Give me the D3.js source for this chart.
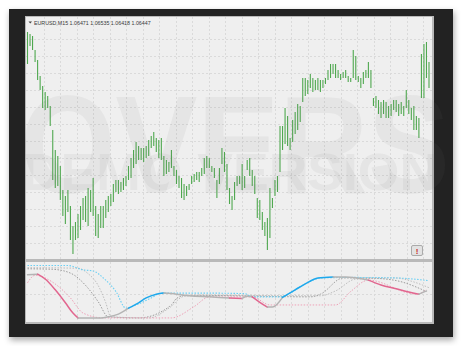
<!DOCTYPE html>
<html>
<head>
<meta charset="utf-8">
<script src="https://cdn.jsdelivr.net/npm/d3@7/dist/d3.min.js"></script>
<style>
  html, body { margin: 0; padding: 0; background: #fff; }
  svg { display: block; }
</style>
</head>
<body>
<svg id="chart" width="461" height="346"></svg>
<script>
'use strict';

// EURUSD M15 bars, high / low per bar
var highs = [
  1.0669,1.0668,1.0667,1.0660,1.0655,1.0647,1.0642,1.0639,1.0637,1.0632,
  1.0620,1.0610,1.0607,1.0602,1.0590,1.0587,1.0590,1.0582,1.0572,1.0574,
  1.0578,1.0582,1.0586,1.0587,1.0591,1.0590,1.0596,1.0582,1.0578,1.0582,
  1.0582,1.0585,1.0587,1.0588,1.0593,1.0595,1.0595,1.0594,1.0596,1.0597,
  1.0602,1.0606,1.0610,1.0614,1.0612,1.0611,1.0611,1.0612,1.0615,1.0617,
  1.0619,1.0616,1.0615,1.0616,1.0607,1.0605,1.0604,1.0610,1.0602,1.0600,
  1.0597,1.0596,1.0593,1.0592,1.0593,1.0597,1.0598,1.0599,1.0599,1.0601,
  1.0606,1.0607,1.0606,1.0602,1.0601,1.0595,1.0601,1.0611,1.0609,1.0603,
  1.0591,1.0587,1.0594,1.0597,1.0597,1.0603,1.0597,1.0605,1.0606,1.0600,
  1.0597,1.0586,1.0585,1.0579,1.0574,1.0576,1.0591,1.0586,1.0595,1.0597,
  1.0622,1.0622,1.0631,1.0627,1.0616,1.0625,1.0629,1.0633,1.0632,1.0646,
  1.0646,1.0645,1.0648,1.0646,1.0645,1.0646,1.0645,1.0645,1.0646,1.0650,
  1.0653,1.0653,1.0653,1.0650,1.0648,1.0649,1.0650,1.0647,1.0646,1.0660,
  1.0657,1.0647,1.0646,1.0649,1.0650,1.0654,1.0650,1.0636,1.0637,1.0635,
  1.0634,1.0635,1.0634,1.0632,1.0633,1.0635,1.0635,1.0633,1.0634,1.0632,
  1.0640,1.0635,1.0631,1.0632,1.0627,1.0626,1.0658,1.0663,1.0664,1.0654
];
var lows = [
  1.0653,1.0662,1.0660,1.0654,1.0645,1.0640,1.0631,1.0630,1.0631,1.0622,
  1.0595,1.0591,1.0592,1.0585,1.0577,1.0573,1.0579,1.0565,1.0558,1.0565,
  1.0566,1.0570,1.0575,1.0574,1.0572,1.0579,1.0577,1.0567,1.0566,1.0571,
  1.0571,1.0576,1.0579,1.0582,1.0584,1.0589,1.0588,1.0589,1.0590,1.0592,
  1.0595,1.0596,1.0601,1.0603,1.0605,1.0605,1.0604,1.0606,1.0607,1.0611,
  1.0612,1.0609,1.0606,1.0605,1.0597,1.0598,1.0599,1.0601,1.0597,1.0593,
  1.0591,1.0586,1.0585,1.0587,1.0590,1.0593,1.0594,1.0595,1.0594,1.0597,
  1.0598,1.0601,1.0601,1.0599,1.0596,1.0586,1.0593,1.0603,1.0599,1.0590,
  1.0583,1.0580,1.0585,1.0592,1.0593,1.0590,1.0591,1.0600,1.0597,1.0592,
  1.0588,1.0576,1.0575,1.0570,1.0567,1.0560,1.0566,1.0581,1.0587,1.0589,
  1.0599,1.0610,1.0613,1.0612,1.0610,1.0614,1.0618,1.0620,1.0624,1.0634,
  1.0637,1.0638,1.0641,1.0639,1.0640,1.0640,1.0639,1.0641,1.0643,1.0645,
  1.0646,1.0648,1.0646,1.0646,1.0645,1.0646,1.0646,1.0644,1.0644,1.0646,
  1.0645,1.0644,1.0641,1.0643,1.0646,1.0646,1.0641,1.0632,1.0631,1.0628,
  1.0626,1.0628,1.0626,1.0626,1.0627,1.0630,1.0629,1.0627,1.0628,1.0627,
  1.0631,1.0628,1.0625,1.0620,1.0620,1.0616,1.0636,1.0636,1.0646,1.0641
];

var titleText = 'EURUSD,M15  1.06471 1.06535 1.06418 1.06447';

// oscillator window, points are [bar index, value]
var mainLine = [[0,82],[4,83],[7,74],[11,54],[15,30],[18,11],[20,2],[25,2],[29,2],[32,4],
  [36,9],[40,20],[44,30],[47,39],[51,46],[54,48],[59,46],[64,43],[72,41],[80,39],
  [85,38],[87,42],[89,41],[92,31],[95,22],[97,22],[101,40],[106,54],[110,65],[115,76],
  [121,78],[126,78],[135,72],[140,63],[146,56],[151,50],[155,46],[158,52]];
// direction of each main segment (from point k to k+1)
var mainTrend = ['flat','down','down','down','down','down','flat','flat','flat','flat',
  'flat','up','up','up','up','flat','flat','flat','flat','down',
  'flat','flat','down','down','flat','flat','up','up','up','up',
  'flat','flat','down','down','down','down','flat'];
var signalLine = [[0,99],[16,99],[22,91],[26,89],[30,76],[35,51],[39,20],[43,26],[49,39],[53,48],
  [70,48],[86,47],[89,41],[100,41],[104,48],[108,60],[112,70],[116,76],[130,77],[146,76],[159,71]];
var pinkLine = [[0,67],[3,81],[10,68],[17,39],[22,11],[30,2],[57,2],[66,23],[72,41],[89,41],
  [96,26],[122,26],[128,51],[135,72],[154,46],[158,54]];
var slowLine = [[0,93],[10,92],[17,85],[24,57],[28,32],[32,4],[44,2],[57,26],[59,38],[63,44],
  [112,41],[116,46],[125,76],[134,76],[145,72],[158,51]];
var slowerLine = [[0,95],[20,94],[24,84],[28,62],[31,30],[33,4],[48,2],[56,20],[62,42],[70,44],
  [116,43],[122,52],[130,74],[146,76],[152,70],[159,58]];

var svg = d3.select('#chart');

// drop shadow for the window
var defs = svg.append('defs');
var f = defs.append('filter').attr('id', 'shadow').attr('x', '-10%').attr('y', '-10%').attr('width', '120%').attr('height', '125%');
f.append('feDropShadow').attr('dx', 1).attr('dy', 3).attr('stdDeviation', 3).attr('flood-color', '#000').attr('flood-opacity', 0.35);

svg.append('rect').attr('x', 9).attr('y', 9).attr('width', 444).attr('height', 328)
  .attr('fill', '#212121').attr('filter', 'url(#shadow)');

// panel frames
svg.append('rect').attr('x', 25).attr('y', 16).attr('width', 409).attr('height', 308).attr('fill', '#b9b9b9');
svg.append('rect').attr('x', 26).attr('y', 17).attr('width', 406).attr('height', 242).attr('fill', '#efefef');
svg.append('rect').attr('x', 26).attr('y', 262).attr('width', 406).attr('height', 60).attr('fill', '#efefef');

defs.append('clipPath').attr('id', 'clipMain').append('rect').attr('x', 26).attr('y', 17).attr('width', 406).attr('height', 242);
defs.append('clipPath').attr('id', 'clipSub').append('rect').attr('x', 26).attr('y', 262).attr('width', 406).attr('height', 60);

// scales
var x = d3.scaleLinear().domain([0, highs.length - 1]).range([27.5, 429]);
var y = d3.scaleLinear().domain([1.0555, 1.0676]).range([260, 18]);
var ySub = d3.scaleLinear().domain([0, 100]).range([319, 265]);

// grid
var grid = svg.append('g').attr('stroke', '#dadada').attr('stroke-width', 1).attr('stroke-dasharray', '2,2');
d3.range(43.5, 432, 16.5).forEach(function(gx){
  gx = Math.round(gx) + 0.5;
  grid.append('line').attr('x1', gx).attr('x2', gx).attr('y1', 17).attr('y2', 259);
  grid.append('line').attr('x1', gx).attr('x2', gx).attr('y1', 262).attr('y2', 322);
});
d3.range(38.5, 259, 17).forEach(function(gy){
  gy = Math.round(gy) + 0.5;
  grid.append('line').attr('x1', 26).attr('x2', 432).attr('y1', gy).attr('y2', gy);
});
grid.append('line').attr('x1', 26).attr('x2', 432).attr('y1', 294.5).attr('y2', 294.5);

// price bars
var bars = svg.append('g').attr('clip-path', 'url(#clipMain)');
bars.selectAll('line').data(highs).enter().append('line')
  .attr('x1', function(d, i){ return x(i); })
  .attr('x2', function(d, i){ return x(i); })
  .attr('y1', function(d){ return y(d); })
  .attr('y2', function(d, i){ return y(lows[i]); })
  .attr('stroke', '#4fa84f')
  .attr('stroke-width', 1.1);

// title
var title = svg.append('g').attr('font-family', 'Liberation Sans, Arial, sans-serif').attr('font-size', 5.3).attr('fill', '#3a3a3a');
title.append('path').attr('d', 'M28.5,21.5 L32,21.5 L30.25,23.5 Z').attr('fill', '#444');
title.append('text').attr('x', 34).attr('y', 24.5).text(titleText);

// oscillator
var sub = svg.append('g').attr('clip-path', 'url(#clipSub)');
var line = d3.line()
  .x(function(d){ return x(d[0]); })
  .y(function(d){ return ySub(d[1]); })
  .curve(d3.curveMonotoneX);

function dotted(data, color, w) {
  sub.append('path').datum(data).attr('d', line)
    .attr('fill', 'none').attr('stroke', color).attr('stroke-width', w || 1)
    .attr('stroke-dasharray', '1.5,1.5');
}
dotted(slowerLine, '#bdbdbd');
dotted(slowLine, '#9c9c9c');
dotted(pinkLine, '#eea2b8');
dotted(signalLine, '#6cd0f4', 1.1);

var trendColor = { up: '#1ea8ec', down: '#e2668f', flat: '#b4b4b4' };
var runs = [];
mainTrend.forEach(function(t, k){
  var last = runs[runs.length - 1];
  if (last && last.trend === t) {
    last.pts.push(mainLine[k + 1]);
  } else {
    runs.push({ trend: t, pts: [mainLine[k], mainLine[k + 1]] });
  }
});
runs.forEach(function(r){
  sub.append('path').datum(r.pts).attr('d', line)
    .attr('fill', 'none').attr('stroke', trendColor[r.trend])
    .attr('stroke-width', 1.5).attr('stroke-linecap', 'round');
});

// little alert button
svg.append('rect').attr('x', 411.5).attr('y', 245.5).attr('width', 11).attr('height', 10).attr('rx', 1.5)
  .attr('fill', '#e2e2e2').attr('stroke', '#aaa');
svg.append('text').attr('x', 417).attr('y', 253.5).attr('text-anchor', 'middle')
  .attr('font-family', 'Liberation Sans, Arial, sans-serif').attr('font-size', 8).attr('font-weight', 'bold')
  .attr('fill', '#c62828').text('!');

// demo watermark over everything
var wm = svg.append('g').attr('font-family', 'Liberation Sans, Arial, sans-serif').attr('font-weight', 'bold')
  .attr('fill', 'rgb(120,120,120)').attr('fill-opacity', 0.08);
wm.append('text').attr('x', 20).attr('y', 193).attr('font-size', 140)
  .attr('textLength', 430).attr('lengthAdjust', 'spacingAndGlyphs').text('OVERS');
wm.append('text').attr('x', 22).attr('y', 190).attr('font-size', 52)
  .attr('textLength', 416).attr('lengthAdjust', 'spacingAndGlyphs').text('DEMO VERSION');
</script>
</body>
</html>
